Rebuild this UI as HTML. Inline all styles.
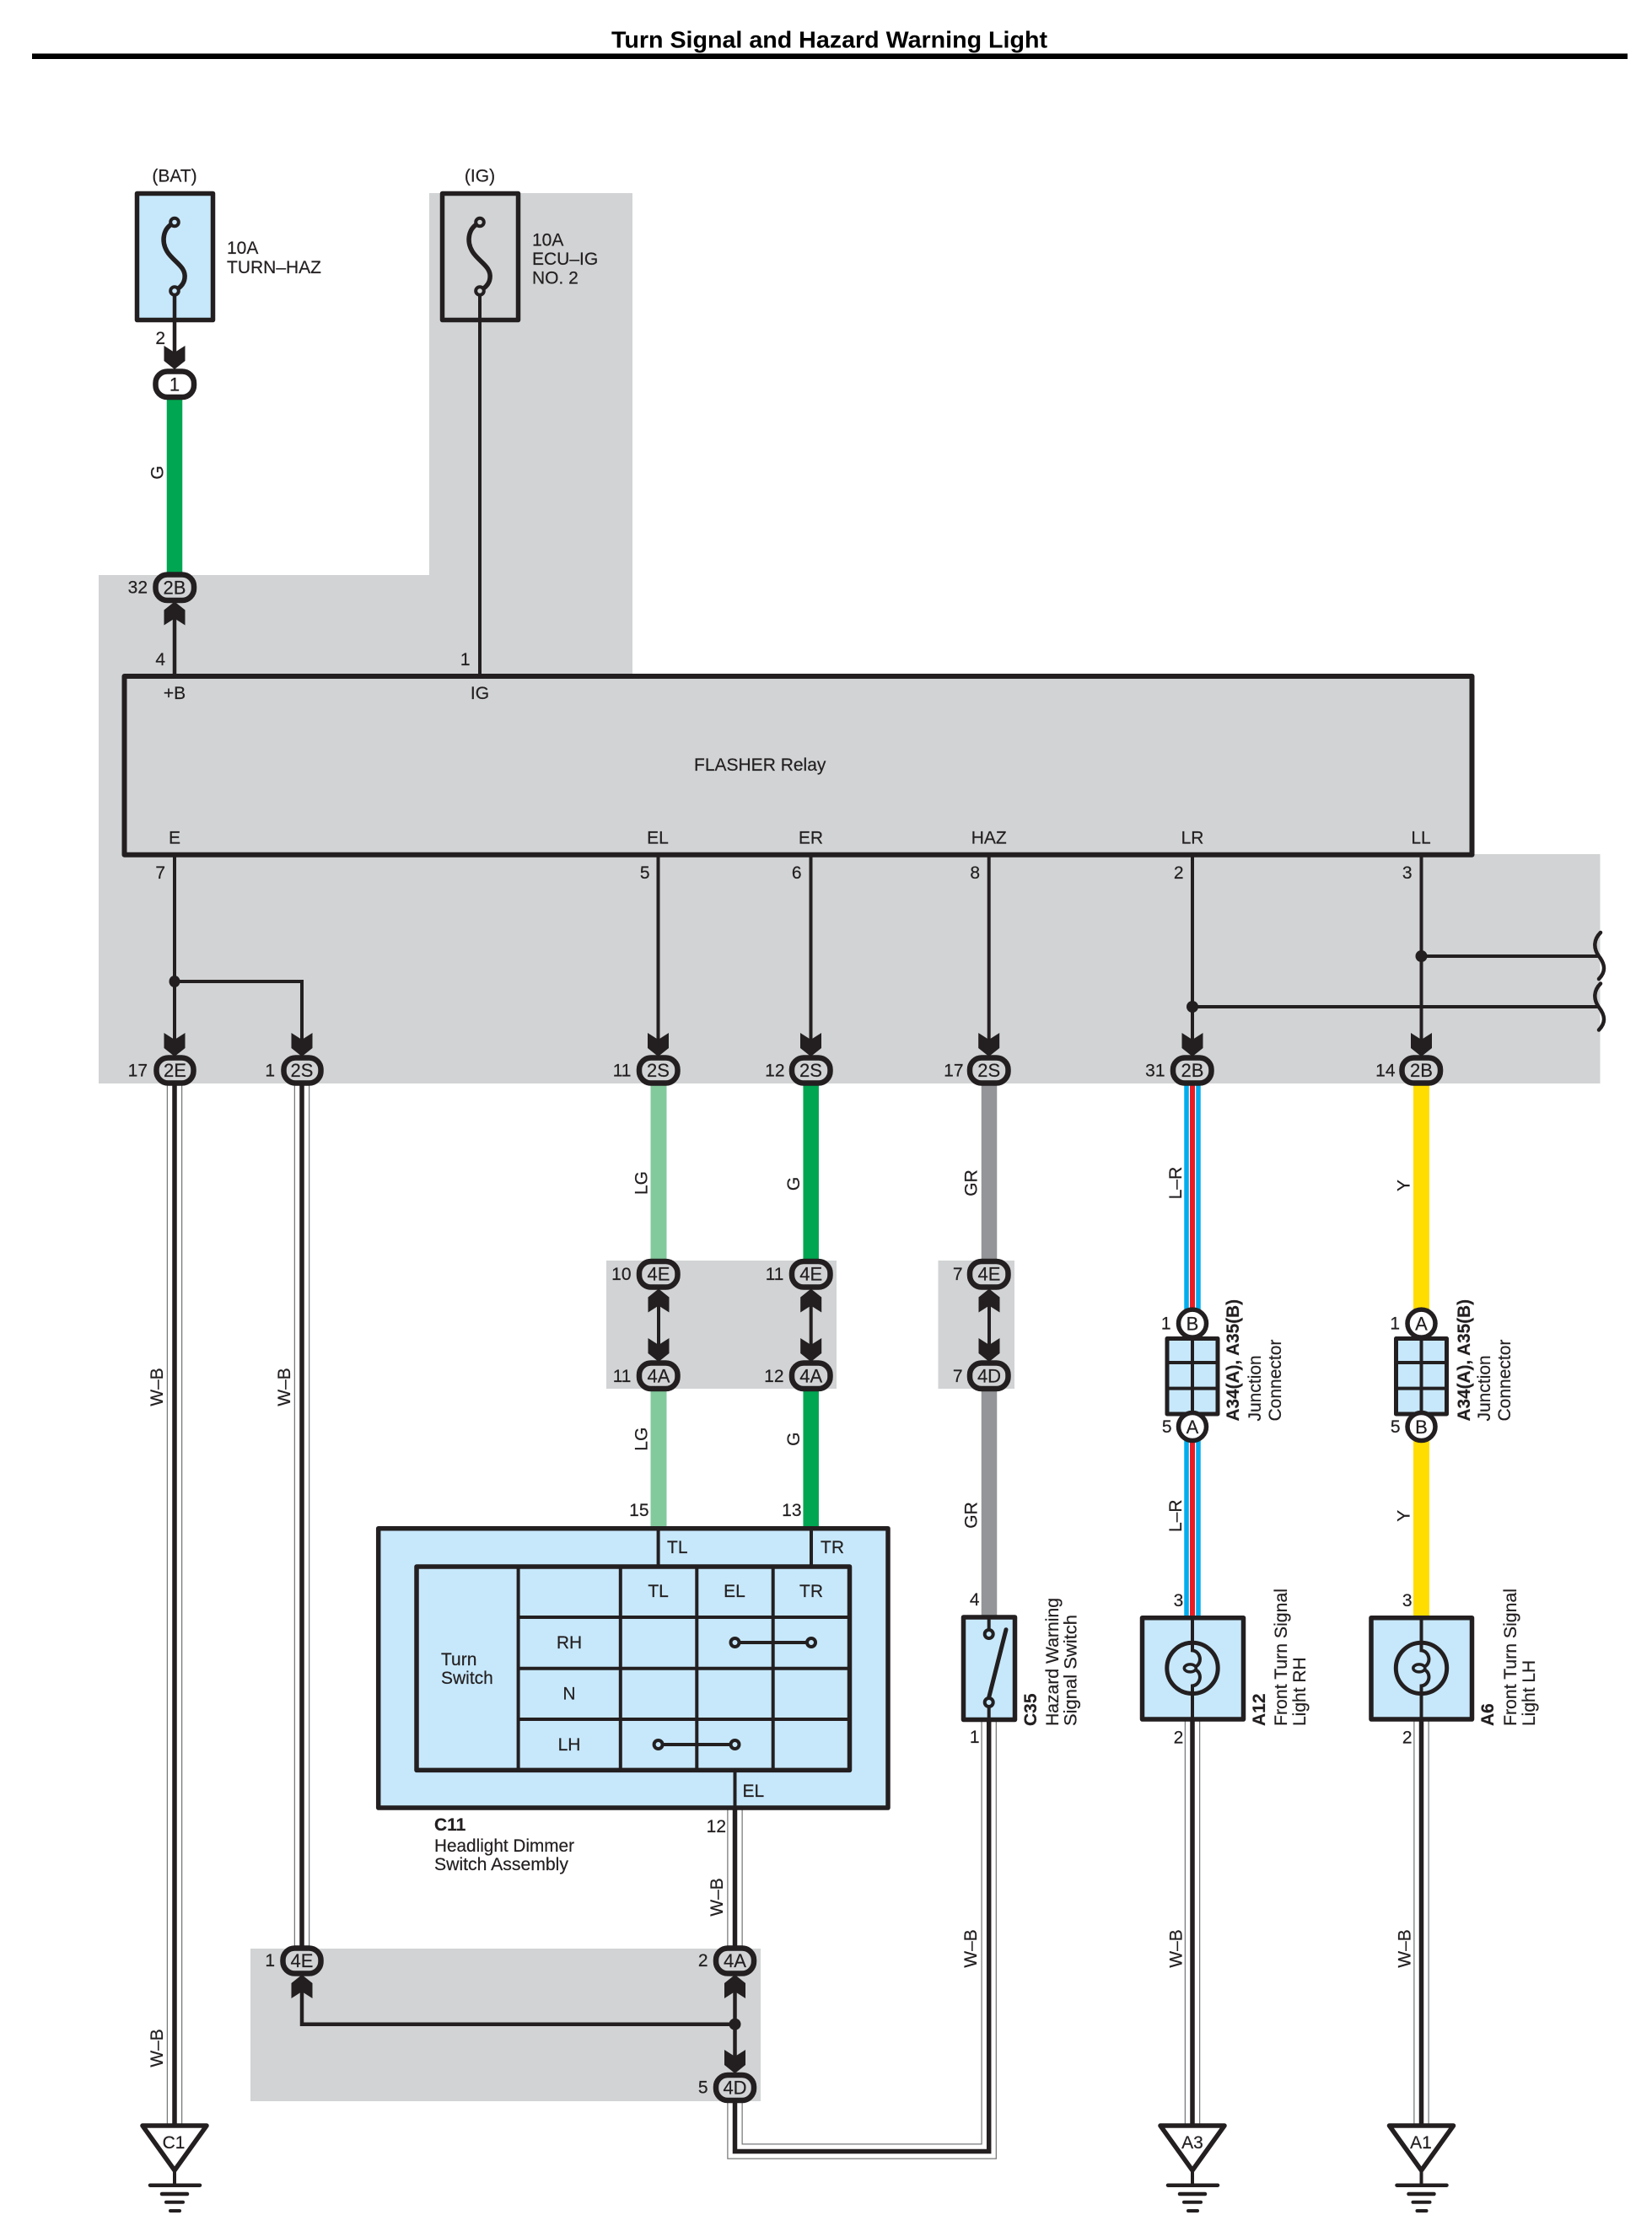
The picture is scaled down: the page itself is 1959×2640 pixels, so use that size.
<!DOCTYPE html>
<html>
<head>
<meta charset="utf-8">
<title>Turn Signal and Hazard Warning Light</title>
<style>
html,body{margin:0;padding:0;background:#fff}
svg{display:block}
text{font-family:"Liberation Sans",sans-serif;font-size:21px;fill:#231f20;stroke:#231f20;stroke-width:.2}
.m{text-anchor:middle}
.e{text-anchor:end}
.b{font-weight:bold}
.k{font-size:22px}
.cg{fill:#d1d3d4;stroke:#231f20;stroke-width:6.5}
.cw{fill:#fff;stroke:#231f20;stroke-width:6.5}
.l4{fill:none;stroke:#231f20;stroke-width:4}
.box{fill:#c7e8fb;stroke:#231f20;stroke-width:5.5;stroke-linejoin:round}
.hole{fill:#c7e8fb;stroke:#231f20;stroke-width:4}
.wb1{fill:none;stroke:#77787b;stroke-width:18.5;stroke-linejoin:miter}
.wb2{fill:none;stroke:#fff;stroke-width:16;stroke-linejoin:miter}
.wb3{fill:none;stroke:#231f20;stroke-width:5.5;stroke-linejoin:miter}
</style>
</head>
<body>
<svg xmlns="http://www.w3.org/2000/svg" width="1959" height="2640" viewBox="0 0 1959 2640">
<defs>
<polygon id="ad" fill="#231f20" points="-12.5,-27 0,-19 12.5,-27 12.5,-9 0,1 -12.5,-9"/>
<polygon id="au" fill="#231f20" points="-12.5,27 0,19 12.5,27 12.5,9 0,-1 -12.5,9"/>
<g id="gnd">
<polygon points="169,2521 245,2521 207,2574" fill="#fff" stroke="#231f20" stroke-width="5.5" stroke-linejoin="round"/>
<path d="M207,2574V2592" fill="none" stroke="#231f20" stroke-width="4"/>
<g stroke="#231f20" stroke-linecap="round" fill="none">
<path d="M178,2591.7H237" stroke-width="4.5"/>
<path d="M192,2602H222" stroke-width="4.5"/>
<path d="M197,2611.7H217" stroke-width="4"/>
<path d="M202,2622H213" stroke-width="4"/>
</g>
</g>
<g id="fuse">
<path d="M207,264C193,270 191,286 198,298C205,310 221,316 219,330C218,338 212,342 207,345" fill="none" stroke="#231f20" stroke-width="5.5"/>
</g>
<g id="brk">
<path d="M1898,1106C1890,1114 1889,1124 1896,1134C1903,1143 1905,1152 1896,1161" fill="none" stroke="#231f20" stroke-width="4.5" stroke-linecap="round"/>
</g>
<g id="bulb">
<circle cx="0" cy="0" r="30.2" fill="none" stroke="#231f20" stroke-width="5"/>
<path d="M0,-60V-21C10,-20 12,-6 4,-2M4,2C12,6 10,20 0,21V61" fill="none" stroke="#231f20" stroke-width="4"/>
<ellipse cx="-2.7" cy="0" rx="7" ry="4.5" fill="none" stroke="#231f20" stroke-width="3.5"/>
</g>
<g id="jc">
<rect x="-30" y="1587.5" width="60" height="89.5" fill="#c7e8fb" stroke="#231f20" stroke-width="5" stroke-linejoin="round"/>
<path d="M0,1587V1677M-30,1616H30M-30,1646.6H30" fill="none" stroke="#231f20" stroke-width="4"/>
<circle cx="0" cy="1569.6" r="16.5" fill="#fff" stroke="#231f20" stroke-width="5.5"/>
<circle cx="0" cy="1692" r="16.5" fill="#fff" stroke="#231f20" stroke-width="5.5"/>
</g>
</defs>

<rect width="1959" height="2640" fill="#fff"/>

<!-- title -->
<text x="725" y="56.5" class="b" style="font-size:28px;fill:#000;stroke:none" textLength="517" lengthAdjust="spacingAndGlyphs">Turn Signal and Hazard Warning Light</text>
<rect x="38" y="63.5" width="1892" height="6.5" fill="#000"/>

<!-- gray zones -->
<polygon fill="#d1d3d4" points="509,229 750,229 750,800 1745,800 1745,1013 1897.5,1013 1897.5,1285 117,1285 117,682 509,682"/>
<rect x="719" y="1495" width="273" height="152" fill="#d1d3d4"/>
<rect x="1112.5" y="1495" width="90.5" height="152" fill="#d1d3d4"/>
<rect x="297" y="2311" width="605" height="181" fill="#d1d3d4"/>

<!-- coloured wires -->
<g fill="none">
<path d="M207,455V697" stroke="#00a651" stroke-width="18.5"/>
<path d="M781,1269V1511M781,1631V1812" stroke="#82ca9c" stroke-width="19"/>
<path d="M961.7,1269V1511M961.7,1631V1812" stroke="#00a651" stroke-width="18.5"/>
<path d="M1173,1269V1511M1173,1631V1918" stroke="#939598" stroke-width="18.5"/>
<path d="M1414,1269V1918" stroke="#00aeef" stroke-width="19.5"/>
<path d="M1414,1269V1918" stroke="#fff" stroke-width="8.5"/>
<path d="M1414,1269V1918" stroke="#ed1c24" stroke-width="6"/>
<path d="M1685.5,1269V1918" stroke="#ffdd00" stroke-width="19"/>
</g>

<!-- W-B wires -->
<g class="wbset">
<path class="wb1" d="M207,1269V2522"/><path class="wb2" d="M207,1269V2522"/><path class="wb3" d="M207,1269V2522"/>
<path class="wb1" d="M358,1269V2326"/><path class="wb2" d="M358,1269V2326"/><path class="wb3" d="M358,1269V2326"/>
<path class="wb1" d="M871.5,2144V2326"/><path class="wb2" d="M871.5,2144V2326"/><path class="wb3" d="M871.5,2144V2326"/>
<path class="wb1" d="M871.5,2476V2551.5H1172.7V2039"/><path class="wb2" d="M871.5,2476V2551.5H1172.7V2039"/><path class="wb3" d="M871.5,2476V2551.5H1172.7V2039"/>
<path class="wb1" d="M1414,2039V2522"/><path class="wb2" d="M1414,2039V2522"/><path class="wb3" d="M1414,2039V2522"/>
<path class="wb1" d="M1685.5,2039V2522"/><path class="wb2" d="M1685.5,2039V2522"/><path class="wb3" d="M1685.5,2039V2522"/>
</g>

<!-- grounds -->
<use href="#gnd"/>
<use href="#gnd" x="1207"/>
<use href="#gnd" x="1478.5"/>
<text x="206" y="2548" class="m">C1</text>
<text x="1414" y="2548" class="m">A3</text>
<text x="1685" y="2548" class="m">A1</text>

<!-- fuses -->
<rect x="162.5" y="229.5" width="90" height="150" class="box"/>
<rect x="524.5" y="229.5" width="90" height="150" fill="#d1d3d4" stroke="#231f20" stroke-width="5.5" stroke-linejoin="round"/>
<use href="#fuse"/>
<use href="#fuse" x="362"/>
<path d="M207,345V430" class="l4" style="stroke-width:4.5"/>
<path d="M569,345V802" class="l4"/>
<circle cx="207" cy="263.5" r="4.8" class="hole"/>
<circle cx="207" cy="345" r="4.8" class="hole"/>
<circle cx="569" cy="263.5" r="4.8" fill="#d1d3d4" stroke="#231f20" stroke-width="4"/>
<circle cx="569" cy="345" r="4.8" fill="#d1d3d4" stroke="#231f20" stroke-width="4"/>
<text x="207" y="215.5" class="m">(BAT)</text>
<text x="569" y="215.5" class="m">(IG)</text>
<text x="269" y="301">10A</text>
<text x="269" y="324" textLength="112" lengthAdjust="spacingAndGlyphs">TURN–HAZ</text>
<text x="631" y="291.5">10A</text>
<text x="631" y="314">ECU–IG</text>
<text x="631" y="336.5">NO. 2</text>
<text x="196" y="408" class="e">2</text>
<use href="#ad" x="207" y="437"/>
<rect x="184.5" y="440.5" width="45.5" height="30.5" rx="14" class="cw"/>
<text x="207" y="463.5" class="m k">1</text>
<text x="193.5" y="560.5" class="m" transform="rotate(-90 193.5 560.5)">G</text>

<path d="M207,725V802" class="l4" style="stroke-width:4.5"/>
<use href="#au" x="207" y="714.5"/>
<rect x="184.5" y="681.5" width="45.5" height="30.5" rx="14" class="cg"/>
<text x="207" y="704.5" class="m k">2B</text>
<text x="175" y="703.5" class="e">32</text>
<text x="196" y="789" class="e">4</text>
<text x="557.5" y="789" class="e">1</text>

<!-- relay -->
<rect x="147.5" y="802" width="1598" height="211.7" fill="#d1d3d4" stroke="#231f20" stroke-width="6" stroke-linejoin="round"/>
<text x="207" y="829" class="m">+B</text>
<text x="569" y="829" class="m">IG</text>
<text x="823" y="914">FLASHER Relay</text>
<text x="207" y="1000.5" class="m">E</text>
<text x="780" y="1000.5" class="m">EL</text>
<text x="961.5" y="1000.5" class="m">ER</text>
<text x="1172.7" y="1000.5" class="m">HAZ</text>
<text x="1414" y="1000.5" class="m">LR</text>
<text x="1685" y="1000.5" class="m">LL</text>
<text x="196" y="1042" class="e">7</text>
<text x="770.5" y="1042" class="e">5</text>
<text x="950.5" y="1042" class="e">6</text>
<text x="1162" y="1042" class="e">8</text>
<text x="1403.5" y="1042" class="e">2</text>
<text x="1674.5" y="1042" class="e">3</text>

<!-- relay output lines -->
<g class="l4">
<path d="M207,1016V1240"/>
<path d="M207,1164H358V1240"/>
<path d="M780.5,1016V1240"/>
<path d="M961.5,1016V1240"/>
<path d="M1172.7,1016V1240"/>
<path d="M1414,1016V1240"/>
<path d="M1685.5,1016V1240"/>
<path d="M1685.5,1134H1896"/>
<path d="M1414,1194H1896"/>
</g>
<g fill="#231f20">
<ellipse cx="207" cy="1164" rx="6.5" ry="7"/>
<ellipse cx="1685.5" cy="1134" rx="7" ry="7"/>
<ellipse cx="1414" cy="1194" rx="7" ry="7"/>
</g>
<use href="#brk"/>
<use href="#brk" y="60.5"/>

<!-- row 2x connectors -->
<use href="#ad" x="207" y="1252"/><use href="#ad" x="358" y="1252"/><use href="#ad" x="780.5" y="1252"/><use href="#ad" x="961.5" y="1252"/><use href="#ad" x="1172.7" y="1252"/><use href="#ad" x="1414" y="1252"/><use href="#ad" x="1685.5" y="1252"/>
<rect x="185.5" y="1254.5" width="44" height="30" rx="14" class="cg"/>
<rect x="336.5" y="1254.5" width="44" height="30" rx="14" class="cg"/>
<rect x="758" y="1254.5" width="45.5" height="30" rx="14" class="cg"/>
<rect x="939" y="1254.5" width="45.5" height="30" rx="14" class="cg"/>
<rect x="1150" y="1254.5" width="45.5" height="30" rx="14" class="cg"/>
<rect x="1391" y="1254.5" width="45.5" height="30" rx="14" class="cg"/>
<rect x="1662.5" y="1254.5" width="45.5" height="30" rx="14" class="cg"/>
<text x="207.5" y="1277" class="m k">2E</text>
<text x="358" y="1277" class="m k">2S</text>
<text x="780.5" y="1277" class="m k">2S</text>
<text x="961.5" y="1277" class="m k">2S</text>
<text x="1172.7" y="1277" class="m k">2S</text>
<text x="1414" y="1277" class="m k">2B</text>
<text x="1685.5" y="1277" class="m k">2B</text>
<text x="175" y="1276.7" class="e">17</text>
<text x="326" y="1276.7" class="e">1</text>
<text x="748.5" y="1276.7" class="e">11</text>
<text x="930.5" y="1276.7" class="e">12</text>
<text x="1142.5" y="1276.7" class="e">17</text>
<text x="1381.5" y="1276.7" class="e">31</text>
<text x="1654.5" y="1276.7" class="e">14</text>

<!-- 4E / 4A / 4D block -->
<g class="l4">
<path d="M781,1540V1600"/>
<path d="M961.7,1540V1600"/>
<path d="M1173,1540V1600"/>
</g>
<use href="#au" x="781" y="1529.5"/><use href="#au" x="961.7" y="1529.5"/><use href="#au" x="1173" y="1529.5"/>
<use href="#ad" x="781" y="1614"/><use href="#ad" x="961.7" y="1614"/><use href="#ad" x="1173" y="1614"/>
<rect x="758" y="1496" width="45.5" height="30.5" rx="14" class="cg"/>
<rect x="939" y="1496" width="45.5" height="30.5" rx="14" class="cg"/>
<rect x="1150" y="1496" width="45.5" height="30.5" rx="14" class="cg"/>
<rect x="758" y="1616.5" width="45.5" height="30.5" rx="14" class="cg"/>
<rect x="939" y="1616.5" width="45.5" height="30.5" rx="14" class="cg"/>
<rect x="1150" y="1616.5" width="45.5" height="30.5" rx="14" class="cg"/>
<text x="781" y="1518.5" class="m k">4E</text>
<text x="961.7" y="1518.5" class="m k">4E</text>
<text x="1173" y="1518.5" class="m k">4E</text>
<text x="781" y="1639.5" class="m k">4A</text>
<text x="961.7" y="1639.5" class="m k">4A</text>
<text x="1173" y="1639.5" class="m k">4D</text>
<text x="748.5" y="1518" class="e">10</text>
<text x="929.5" y="1518" class="e">11</text>
<text x="1141.5" y="1518" class="e">7</text>
<text x="748.5" y="1639" class="e">11</text>
<text x="929.5" y="1639" class="e">12</text>
<text x="1141.5" y="1639" class="e">7</text>
<text x="769.5" y="1798" class="e">15</text>
<text x="950.5" y="1798" class="e">13</text>

<!-- C11 -->
<rect x="448.7" y="1812.7" width="604.3" height="331.3" class="box"/>
<rect x="494" y="1858" width="513.5" height="241.4" class="box"/>
<path d="M780.6,1812V1858M962,1812V1858M871.5,2099V2144" class="l4"/>
<path d="M614.6,1858V2099M735.8,1858V2099M826.3,1858V2099M916.7,1858V2099M614.6,1918H1007M614.6,1978.7H1007M614.6,2039H1007" class="l4"/>
<path d="M871.5,1948H962M780.6,2069H871.5" class="l4"/>
<circle cx="871.5" cy="1948" r="5" class="hole"/>
<circle cx="962" cy="1948" r="5" class="hole"/>
<circle cx="780.6" cy="2069" r="5" class="hole"/>
<circle cx="871.5" cy="2069" r="5" class="hole"/>
<text x="791" y="1842">TL</text>
<text x="973" y="1842">TR</text>
<text x="780.6" y="1894" class="m">TL</text>
<text x="871" y="1894" class="m">EL</text>
<text x="962" y="1894" class="m">TR</text>
<text x="675" y="1955" class="m">RH</text>
<text x="675" y="2015.5" class="m">N</text>
<text x="675" y="2076" class="m">LH</text>
<text x="523" y="1975">Turn</text>
<text x="523" y="1997">Switch</text>
<text x="880.5" y="2131">EL</text>
<text x="515" y="2171" class="b">C11</text>
<text x="515" y="2196" textLength="166" lengthAdjust="spacingAndGlyphs">Headlight Dimmer</text>
<text x="515" y="2218" textLength="159" lengthAdjust="spacingAndGlyphs">Switch Assembly</text>
<text x="861" y="2173" class="e">12</text>

<!-- C35 -->
<rect x="1142.5" y="1918" width="61" height="121.5" class="box"/>
<path d="M1172.7,1918V1933M1172.7,2024V2040" class="l4"/>
<path d="M1172.7,2013L1193,1932.7" fill="none" stroke="#231f20" stroke-width="5" stroke-linecap="round"/>
<circle cx="1172.7" cy="1938" r="5" class="hole"/>
<circle cx="1172.7" cy="2019" r="5" class="hole"/>
<text x="1161.5" y="1904" class="e">4</text>
<text x="1161.5" y="2067" class="e">1</text>
<text transform="translate(1229,2047) rotate(-90)" class="b">C35</text>
<text transform="translate(1255,2047) rotate(-90)" textLength="152" lengthAdjust="spacingAndGlyphs">Hazard Warning</text>
<text transform="translate(1276.7,2047) rotate(-90)" textLength="132" lengthAdjust="spacingAndGlyphs">Signal Switch</text>

<!-- junction connectors -->
<use href="#jc" x="1414"/>
<use href="#jc" x="1685.5"/>
<text x="1414" y="1577.5" class="m k">B</text>
<text x="1414" y="1700" class="m k">A</text>
<text x="1685.5" y="1577.5" class="m k">A</text>
<text x="1685.5" y="1700" class="m k">B</text>
<text x="1388.5" y="1576.5" class="e">1</text>
<text x="1389.5" y="1699" class="e">5</text>
<text x="1660" y="1576.5" class="e">1</text>
<text x="1660.5" y="1699" class="e">5</text>
<text transform="translate(1469,1685.5) rotate(-90)" class="b" textLength="144.5" lengthAdjust="spacingAndGlyphs">A34(A), A35(B)</text>
<text transform="translate(1495,1685.5) rotate(-90)">Junction</text>
<text transform="translate(1519,1685.5) rotate(-90)">Connector</text>
<text transform="translate(1743,1685.5) rotate(-90)" class="b" textLength="144.5" lengthAdjust="spacingAndGlyphs">A34(A), A35(B)</text>
<text transform="translate(1767,1685.5) rotate(-90)">Junction</text>
<text transform="translate(1791,1685.5) rotate(-90)">Connector</text>

<!-- lamps -->
<rect x="1354.5" y="1918.7" width="120" height="120.3" class="box"/>
<rect x="1626" y="1918.7" width="119.5" height="120.3" class="box"/>
<use href="#bulb" x="1414" y="1978.4"/>
<use href="#bulb" x="1685.5" y="1978.4"/>
<text x="1403.3" y="1905" class="e">3</text>
<text x="1403.3" y="2067.5" class="e">2</text>
<text x="1674.5" y="1905" class="e">3</text>
<text x="1674.5" y="2067.5" class="e">2</text>
<text transform="translate(1500,2047) rotate(-90)" class="b">A12</text>
<text transform="translate(1526,2047) rotate(-90)" textLength="163" lengthAdjust="spacingAndGlyphs">Front Turn Signal</text>
<text transform="translate(1548,2047) rotate(-90)">Light RH</text>
<text transform="translate(1771,2047) rotate(-90)" class="b">A6</text>
<text transform="translate(1798,2047) rotate(-90)" textLength="163" lengthAdjust="spacingAndGlyphs">Front Turn Signal</text>
<text transform="translate(1820,2047) rotate(-90)">Light LH</text>

<!-- bottom block -->
<path d="M358,2350V2400.7H871.5M871.5,2350V2445" class="l4" style="stroke-width:4.5"/>
<ellipse cx="871.5" cy="2400.7" rx="7" ry="7" fill="#231f20"/>
<use href="#au" x="358" y="2343"/>
<use href="#au" x="871.5" y="2343"/>
<use href="#ad" x="871.5" y="2458"/>
<rect x="335.5" y="2310.5" width="45" height="30" rx="14" class="cg"/>
<rect x="849" y="2310.5" width="45" height="30" rx="14" class="cg"/>
<rect x="849" y="2461" width="45" height="30" rx="14" class="cg"/>
<text x="358" y="2333" class="m k">4E</text>
<text x="871.5" y="2333" class="m k">4A</text>
<text x="871.5" y="2483.5" class="m k">4D</text>
<text x="326" y="2332" class="e">1</text>
<text x="839.5" y="2332" class="e">2</text>
<text x="839.5" y="2482.7" class="e">5</text>

<!-- wire labels -->
<text transform="translate(767.5,1403) rotate(-90)" class="m">LG</text>
<text transform="translate(948,1404) rotate(-90)" class="m">G</text>
<text transform="translate(1158.5,1403) rotate(-90)" class="m">GR</text>
<text transform="translate(1401,1403) rotate(-90)" class="m">L–R</text>
<text transform="translate(1671.5,1406) rotate(-90)" class="m">Y</text>
<text transform="translate(767.5,1706.7) rotate(-90)" class="m">LG</text>
<text transform="translate(948,1706.7) rotate(-90)" class="m">G</text>
<text transform="translate(1158.5,1797) rotate(-90)" class="m">GR</text>
<text transform="translate(1401,1797.7) rotate(-90)" class="m">L–R</text>
<text transform="translate(1671.5,1797.7) rotate(-90)" class="m">Y</text>
<text transform="translate(193,1645) rotate(-90)" class="m">W–B</text>
<text transform="translate(344,1645) rotate(-90)" class="m">W–B</text>
<text transform="translate(193,2429) rotate(-90)" class="m">W–B</text>
<text transform="translate(857,2250) rotate(-90)" class="m">W–B</text>
<text transform="translate(1158,2311) rotate(-90)" class="m">W–B</text>
<text transform="translate(1401.3,2311) rotate(-90)" class="m">W–B</text>
<text transform="translate(1672.5,2311) rotate(-90)" class="m">W–B</text>
</svg>
</body>
</html>
